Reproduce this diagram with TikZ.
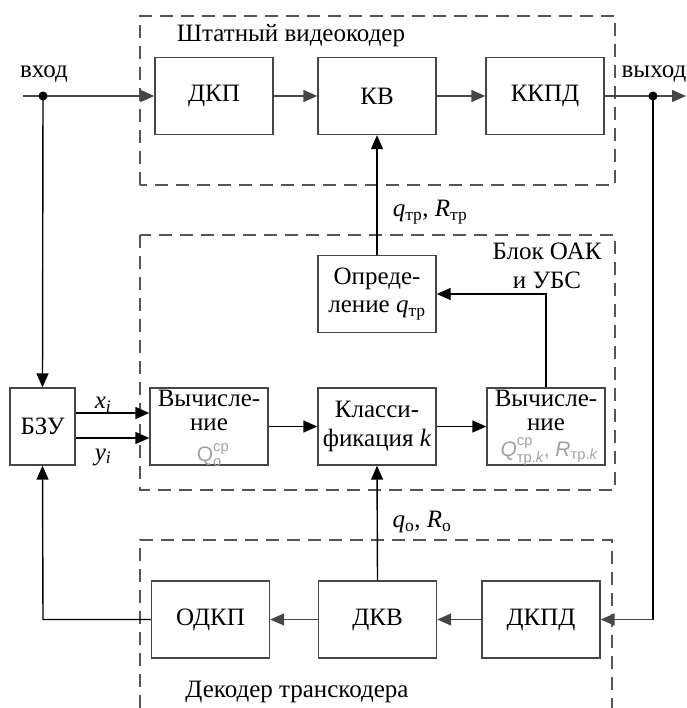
\documentclass[tikz,border=0pt]{standalone}
\usepackage{fontspec}
\usepackage{amsmath}
\setmainfont{Liberation Serif}
\setsansfont{Liberation Sans}
\usetikzlibrary{arrows.meta}
\definecolor{lg}{RGB}{70,70,70}
\definecolor{dg}{RGB}{85,85,85}
\definecolor{fg}{RGB}{160,160,160}
\begin{document}
\begin{tikzpicture}[x=1pt,y=-1pt,
  font=\fontsize{25}{28.5}\selectfont,
  blk/.style={draw=lg,line width=1.4pt,minimum width=118pt,minimum height=77pt,inner sep=0pt,align=center},
  txt/.style={inner sep=0pt,align=center},
  grp/.style={draw=dg,line width=1.4pt,dash pattern=on 13pt off 8pt},
  ga/.style={draw=lg,line width=1.4pt,-{Triangle[length=14pt,width=12pt]},fill=lg},
  ba/.style={draw=black,line width=1.4pt,-{Triangle[length=14pt,width=12pt]}},
  bl/.style={draw=black,line width=1.4pt},
  frm/.style={inner sep=0pt,text=fg,font=\fontsize{21}{22}\sffamily}
]
\useasboundingbox (0,0) rectangle (686,708);
% group frames
\draw[grp] (140,185) -- (140,16) -- (615,16) -- (615,185) -- cycle;
\draw[grp] (140,235) rectangle (615,490);
\draw[grp] (140,708) -- (140,540) -- (612,540) -- (612,708);
\node[txt] (t1) at (291,36) {Штатный видеокодер};
\node[txt] (t2) at (547,266) {Блок ОАК\\и УБС};
\node[txt] (t3) at (297,692) {Декодер транскодера};
% blocks
\node[blk] (dkp) at (214,96) {ДКП};
\node[blk] (kv) at (377,96) {КВ};
\node[blk] (kkpd) at (545,96) {ККПД};
\node[blk] (opr) at (377,294) {Опреде-\\ление \textit{q}\textsubscript{тр}};
\node[blk] (v1) at (209,426.5) {};
\node[blk] (kl) at (377,426.5) {Класси-\\фикация \textit{k}};
\node[blk] (v2) at (546,426.5) {};
\node[blk,minimum width=65pt] (bzu) at (42.5,426.5) {БЗУ};
\node[blk] (odkp) at (210.5,619.5) {ОДКП};
\node[blk] (dkv) at (377.5,619.5) {ДКВ};
\node[blk] (dkpd) at (541,619.5) {ДКПД};
% texts inside calculation blocks
\node[txt] (v1a) at (209,398) {Вычисле-};
\node[txt] (v1b) at (209,425) {ние};
\node[frm] (v1c) at (213,455) {$\text{Q}^{\text{ср}}_{\text{о}}$};
\node[txt] (v2a) at (546,398) {Вычисле-};
\node[txt] (v2b) at (546,425) {ние};
\node[frm] (v2c) at (549,452) {$\textit{Q}^{\text{ср}}_{\text{тр.}\textit{k}}\text{, }\textit{R}_{\text{тр.}\textit{k}}$};
% labels
\node[txt] (lin) at (44,74) {вход};
\node[txt] (lout) at (654,74) {выход};
\node[txt] (lq1) at (430,212) {\textit{q}\textsubscript{тр}, \textit{R}\textsubscript{тр}};
\node[txt] (lq2) at (422,522) {\textit{q}\textsubscript{о}, \textit{R}\textsubscript{о}};
\node[txt] (lx) at (103,405) {\textit{x\textsubscript{i}}};
\node[txt] (ly) at (103,457) {\textit{y\textsubscript{i}}};
% coordinates
\coordinate (in) at (23,96);
\coordinate (indot) at (43,96);
\coordinate (out) at (686,96);
\coordinate (outdot) at (653,96);
\coordinate (c1) at (653,619.5);
\coordinate (c2) at (43,619.5);
\coordinate (c3) at (546,294);
% connectors
\draw[ga] (in) -- (dkp.west);
\draw[ga] (dkp) -- (kv);
\draw[ga] (kv) -- (kkpd);
\draw[ga] (kkpd.east) -- (out);
\draw[ba] (indot) -- (bzu.north);
\draw[ba] ([yshift=13.5pt]bzu.east) -- ([yshift=13.5pt]v1.west);
\draw[ba] ([yshift=-11.5pt]bzu.east) -- ([yshift=-11.5pt]v1.west);
\draw[ba] (v1) -- (kl);
\draw[ba] (kl) -- (v2);
\draw[ba] (v2.north) -- (c3) -- (opr.east);
\draw[ba] (opr.north) -- (kv.south);
\draw[ba] (dkv.north) -- (kl.south);
\draw[bl] (outdot) -- (c1);
\draw[ga] (c1) -- (dkpd.east);
\draw[ga] (dkpd) -- (dkv);
\draw[ga] (dkv) -- (odkp);
\draw[ba] (odkp.west) -- (c2) -- (bzu.south);
\fill (indot) circle (4.5pt);
\fill (outdot) circle (4.5pt);
\end{tikzpicture}
\end{document}
